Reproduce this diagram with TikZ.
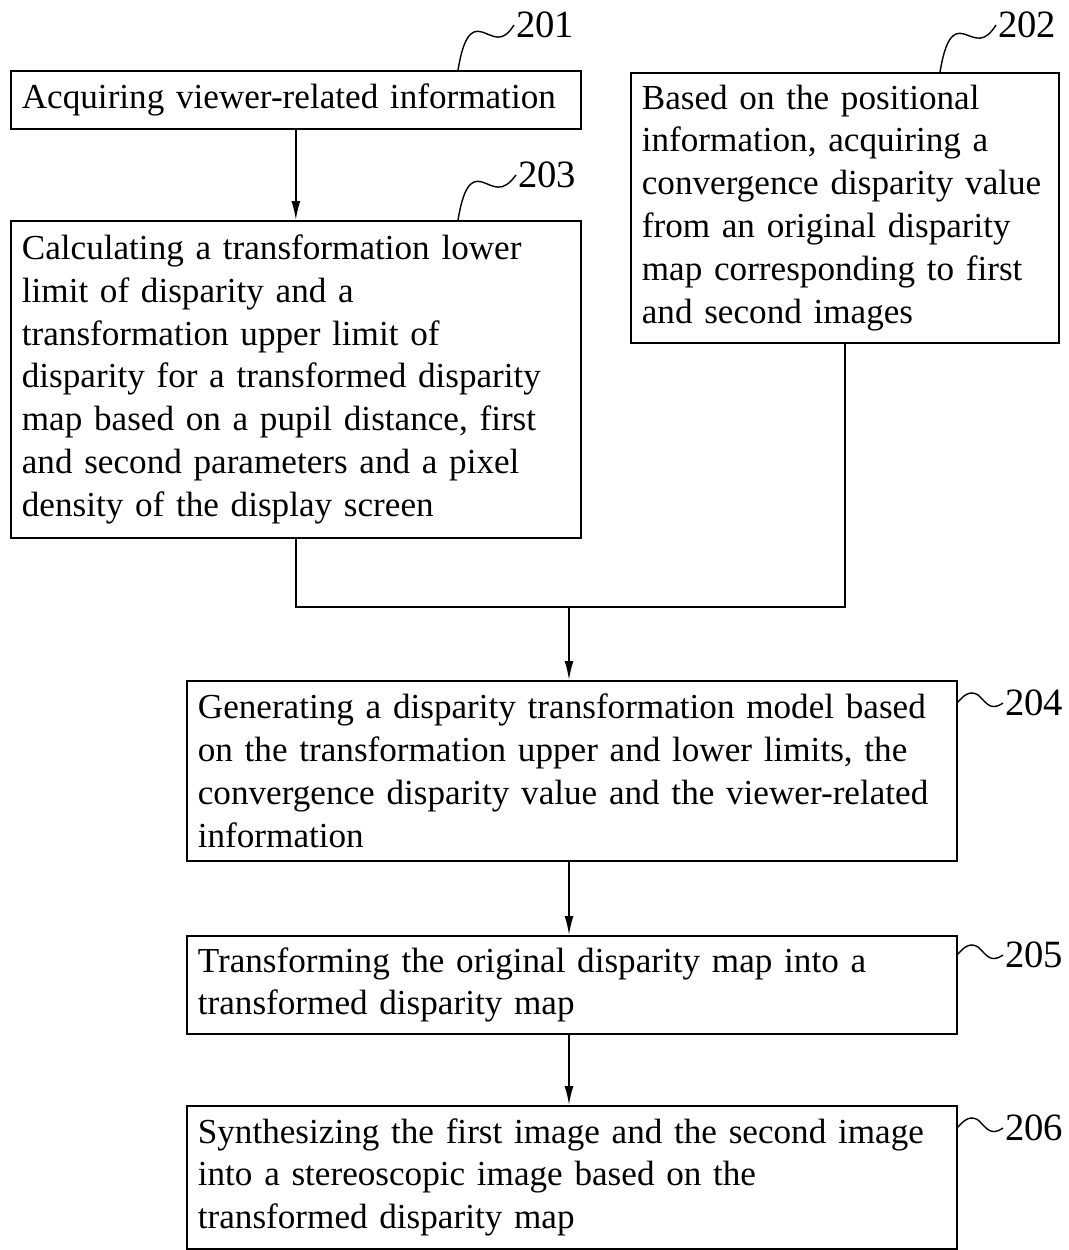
\documentclass[tikz,border=0pt]{standalone}
\usepackage{fontspec}
\setmainfont{Liberation Serif}
\usepackage{tikz}
\usetikzlibrary{arrows.meta}
\hyphenpenalty=10000

\begin{document}
\begin{tikzpicture}[x=0.02cm, y=-0.02cm, >={Latex[length=0.38cm, width=0.18cm]}]
      \useasboundingbox (0,0) rectangle (1068,1250);
      \tikzstyle {stepcell} = [shape=rectangle, draw=black, line width=1pt, anchor=north west, align=left, inner xsep=0.22cm, inner ysep=0pt, font=\fontsize{20}{24.4}\selectfont];
      \tikzstyle {refnum} = [font=\fontsize{22}{22}\selectfont, inner sep=1pt];
      \node (b201) [stepcell, text width=10.96cm, minimum height=1.16cm] at (10,70) {Acquiring viewer-related information};
      \node (b202) [stepcell, text width=8.12cm, minimum height=5.4cm] at (630,72) {Based on the positional\\ information, acquiring a\\ convergence disparity value\\ from an original disparity\\ map corresponding to first\\ and second images};
      \node (b203) [stepcell, text width=10.96cm, minimum height=6.34cm] at (10,220) {Calculating a transformation lower\\ limit of disparity and a\\ transformation upper limit of\\ disparity for a transformed disparity\\ map based on a pupil distance, first\\ and second parameters and a pixel\\ density of the display screen};
      \node (b204) [stepcell, text width=14.96cm, minimum height=3.6cm] at (186,680) {Generating a disparity transformation model based\\ on the transformation upper and lower limits, the\\ convergence disparity value and the viewer-related\\ information};
      \node (b205) [stepcell, text width=14.96cm, minimum height=1.96cm] at (186,935) {Transforming the original disparity map into a\\ transformed disparity map};
      \node (b206) [stepcell, text width=14.96cm, minimum height=2.86cm] at (186,1105) {Synthesizing the first image and the second image\\ into a stereoscopic image based on the\\ transformed disparity map};
      % reference numerals
      \node (l201) [refnum, anchor=west] at (514,25) {201};
      \node (l202) [refnum, anchor=west] at (996,25) {202};
      \node (l203) [refnum, anchor=west] at (516,175) {203};
      \node (l204) [refnum, anchor=west] at (1003,703) {204};
      \node (l205) [refnum, anchor=west] at (1003,955) {205};
      \node (l206) [refnum, anchor=west] at (1003,1128) {206};
      \coordinate (t201) at (458,70);
      \coordinate (t202) at (940,72);
      \coordinate (t203) at (458,220);
      \coordinate (t204) at (957,703);
      \coordinate (t205) at (957,955);
      \coordinate (t206) at (957,1128);
      \draw [line width=0.8pt] (t201) .. controls (463,40) and (470,28) .. (482,32) .. controls (494,36) and (502,44) .. (l201.west);
      \draw [line width=0.8pt] (t202) .. controls (945,42) and (952,30) .. (964,34) .. controls (976,38) and (984,44) .. (l202.west);
      \draw [line width=0.8pt] (t203) .. controls (463,190) and (470,178) .. (482,182) .. controls (494,186) and (502,194) .. (l203.west);
      \draw [line width=0.8pt] (t204) .. controls (964,695) and (970,690) .. (978,695) .. controls (986,702) and (990,712) .. (l204.west);
      \draw [line width=0.8pt] (t205) .. controls (964,947) and (970,942) .. (978,947) .. controls (986,954) and (990,964) .. (l205.west);
      \draw [line width=0.8pt] (t206) .. controls (964,1120) and (970,1115) .. (978,1120) .. controls (986,1127) and (990,1137) .. (l206.west);
      % connectors
      \coordinate (merge) at (569,607);
      \draw [line width=1pt, ->] (b201.south) -- (b203.north);
      \draw [line width=1pt] (b203.south) |- (merge) -| (b202.south);
      \draw [line width=1pt, ->] (merge) -- (merge |- b204.north);
      \draw [line width=1pt, ->] (merge |- b204.south) -- (merge |- b205.north);
      \draw [line width=1pt, ->] (merge |- b205.south) -- (merge |- b206.north);
\end{tikzpicture}
\end{document}
